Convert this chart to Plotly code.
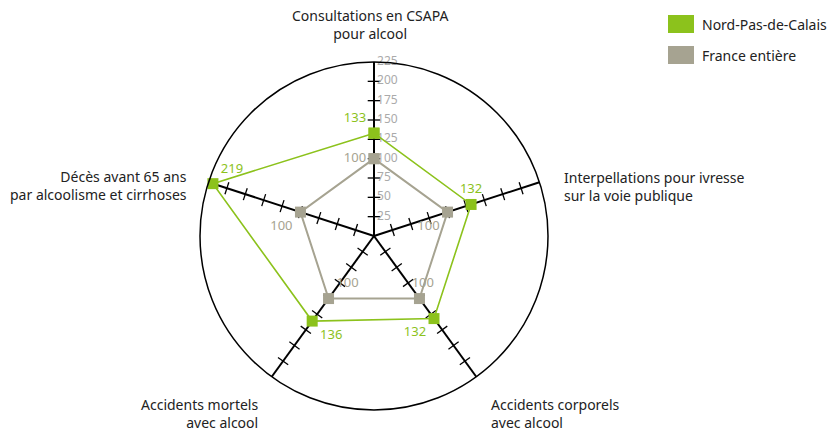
import plotly.graph_objects as go

# Data
categories = [
    "Consultations en CSAPA",
    "Interpellations pour ivresse",
    "Accidents corporels",
    "Accidents mortels",
    "Décès avant 65 ans",
]
nord = [133, 132, 132, 136, 219]
france = [100, 100, 100, 100, 100]
series_names = ["Nord-Pas-de-Calais", "France entière"]
radial_ticks = [25, 50, 75, 100, 125, 150, 175, 200, 225]

green = "#8CC21C"
grey = "#A6A391"
font = "Noto Sans"
nb = "\u00a0"

fig = go.Figure()

# tick crosses on every spoke
tick_r, tick_t, tick_a = [], [], []
for i, c in enumerate(categories):
    for r in radial_ticks[:-1]:
        tick_r.append(r)
        tick_t.append(c)
        tick_a.append(72 * i)
fig.add_trace(go.Scatterpolar(
    r=tick_r, theta=tick_t, mode="markers", hoverinfo="skip", showlegend=False,
    marker=dict(symbol="line-ew", size=9, angle=tick_a,
                line=dict(color="black", width=1.3)),
))

# radial tick labels along the top spoke
fig.add_trace(go.Scatterpolar(
    r=radial_ticks, theta=[categories[0]] * len(radial_ticks), mode="text",
    text=[" " + str(v) for v in radial_ticks], textposition="middle right",
    textfont=dict(family=font, size=12, color="#AAAAAA"),
    hoverinfo="skip", showlegend=False,
))

# France entière
fr_text = [str(v) for v in france]
fr_text[2] = nb * 2 + fr_text[2]
fig.add_trace(go.Scatterpolar(
    r=france + france[:1], theta=categories + categories[:1],
    mode="lines+markers+text", name=series_names[1], showlegend=False,
    line=dict(color=grey, width=2),
    marker=dict(symbol="square", size=11, color=grey),
    text=fr_text + [""],
    textposition=["middle left", "bottom left", "top center", "top right", "bottom left", "middle left"],
    textfont=dict(family=font, size=13, color=grey),
))

# Nord-Pas-de-Calais
fig.add_trace(go.Scatterpolar(
    r=nord + nord[:1], theta=categories + categories[:1],
    mode="lines+markers+text", name=series_names[0], showlegend=False,
    line=dict(color=green, width=1.6),
    marker=dict(symbol="square", size=11, color=green),
    text=[str(v) for v in nord] + [""],
    textposition=["top left", "top center", "bottom left", "bottom right", "top right", "top left"],
    textfont=dict(family=font, size=13, color=green),
))

cx, cy, rad = 374, 236, 174
W, H = 835, 431

fig.update_layout(
    width=W, height=H,
    margin=dict(l=0, r=0, t=0, b=0),
    paper_bgcolor="white", plot_bgcolor="white",
    font=dict(family=font, size=14, color="#222"),
    showlegend=False,
    polar=dict(
        domain=dict(x=[(cx - rad) / W, (cx + rad) / W],
                    y=[1 - (cy + rad) / H, 1 - (cy - rad) / H]),
        bgcolor="white",
        angularaxis=dict(rotation=90, direction="clockwise",
                         showline=True, linecolor="black", linewidth=1.5,
                         showgrid=True, gridcolor="black", gridwidth=1.5,
                         showticklabels=False, ticks=""),
        radialaxis=dict(range=[0, 225], angle=90, showticklabels=False,
                        showline=False, showgrid=False, ticks=""),
    ),
)

# axis labels
labels = [
    ("Consultations en CSAPA<br>pour alcool", 370, 25, "center"),
    ("Interpellations pour ivresse<br>sur la voie publique", 562, 186, "left"),
    ("Accidents corporels<br>avec alcool", 489, 413, "left"),
    ("Accidents mortels<br>avec alcool", 260, 413, "right"),
    ("Décès avant 65 ans<br>par alcoolisme et cirrhoses", 189, 185, "right"),
]
for txt, x, y, al in labels:
    fig.add_annotation(text=txt, x=x / W, y=1 - y / H, xref="paper", yref="paper",
                       xanchor=al, yanchor="middle", align=al, showarrow=False,
                       font=dict(family=font, size=14, color="#222"))

# legend
for k, (name, col) in enumerate(zip(series_names, [green, grey])):
    y0 = 15 + k * 31
    fig.add_shape(type="rect", xref="paper", yref="paper",
                  x0=668 / W, x1=694 / W, y0=1 - (y0 + 18) / H, y1=1 - y0 / H,
                  fillcolor=col, line=dict(width=0))
    fig.add_annotation(text=name, x=700 / W, y=1 - (y0 + 9) / H, xref="paper", yref="paper",
                       xanchor="left", yanchor="middle", showarrow=False,
                       font=dict(family=font, size=14, color="#222"))

fig.write_html("out.html", config={"displayModeBar": False},
               post_script="document.body.style.margin='0';document.body.style.overflow='hidden';")
